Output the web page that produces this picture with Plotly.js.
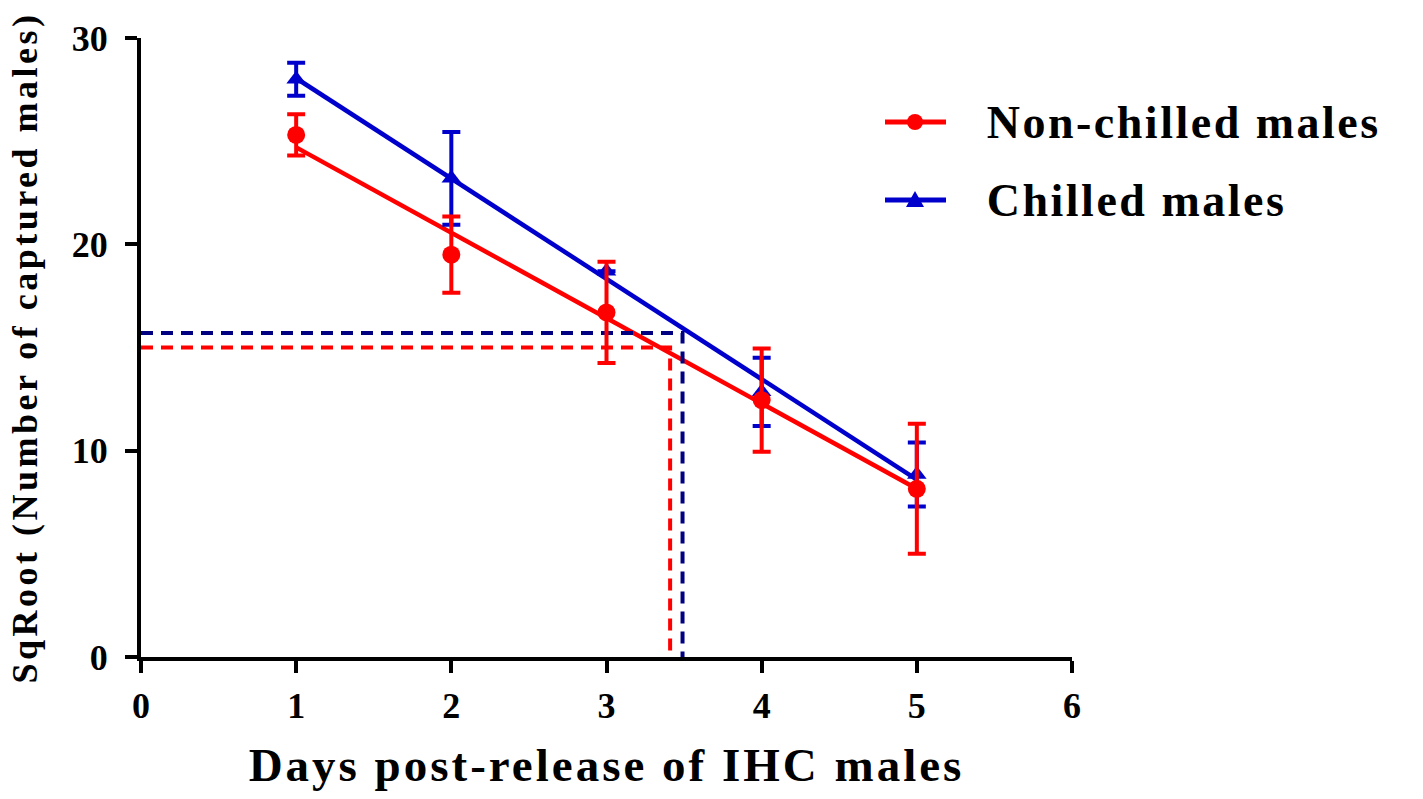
<!DOCTYPE html>
<html>
<head>
<meta charset="utf-8">
<script src="https://cdn.plot.ly/plotly-3.0.1.min.js"></script>
<style>
html,body{margin:0;padding:0;background:#fff;}
#chart{width:1423px;height:799px;}
#chart .xtitle{letter-spacing:3px;}
#chart .ytitle{letter-spacing:3.5px;}
#chart .annotation-text{letter-spacing:2.5px;}
</style>
</head>
<body>
<div id="chart"></div>
<script>
// Days post-release
var days = [1, 2, 3, 4, 5];
// Non-chilled males: mean and error (sqrt of captured)
var nonChilledMean = [25.3, 19.5, 16.7, 12.45, 8.15];
var nonChilledErr = [1.0, 1.85, 2.45, 2.5, 3.15];
// Chilled males (no visible error bar at day 3)
var chilledMean = [28.0, 23.2, 18.7, 12.85, 8.85];
var chilledErr = [0.8, 2.25, null, 1.65, 1.55];
// Linear fit lines (endpoints)
var fitX = [1, 5];
var nonChilledFit = [24.7, 8.15];
var chilledFit = [28.05, 8.6];
// Reference levels (dashed guides)
var nonChilledLevel = 15.0, nonChilledDay = 3.41;
var chilledLevel = 15.7, chilledDay = 3.49;
// Legend labels
var seriesNames = ['Non-chilled males', 'Chilled males'];

var RED = '#ff0000', BLUE = '#0000cc', NAVY = '#000080';
var FONT = 'Liberation Serif, Times New Roman, serif';

var traces = [
  {x: fitX, y: chilledFit, mode: 'lines', line: {color: BLUE, width: 4.5}, showlegend: false, name: seriesNames[1]},
  {x: fitX, y: nonChilledFit, mode: 'lines', line: {color: RED, width: 4.5}, showlegend: false, name: seriesNames[0]},
  {x: [0, chilledDay, chilledDay], y: [chilledLevel, chilledLevel, 0], mode: 'lines',
   line: {color: NAVY, width: 4, dash: '12px,8px'}, showlegend: false, hoverinfo: 'skip'},
  {x: [0, nonChilledDay, nonChilledDay], y: [nonChilledLevel, nonChilledLevel, 0], mode: 'lines',
   line: {color: RED, width: 4, dash: '12px,8px'}, showlegend: false, hoverinfo: 'skip'},
  {x: days, y: chilledMean, mode: 'markers', showlegend: false, name: seriesNames[1],
   marker: {symbol: 'triangle-up', size: 17, color: BLUE},
   error_y: {type: 'data', array: chilledErr, visible: true, color: BLUE, thickness: 4, width: 9}},
  {x: days, y: nonChilledMean, mode: 'markers', showlegend: false, name: seriesNames[0],
   marker: {symbol: 'circle', size: 18, color: RED},
   error_y: {type: 'data', array: nonChilledErr, visible: true, color: RED, thickness: 4, width: 9}}
];

// plot area in pixels: left 141, right 1072, top 38, bottom 657
function px2x(px) { return (px - 141) / 931; }
function py2y(py) { return (657 - py) / 619; }

var LEG_SPACING = 2.5;
var legendRows = [
  {y: 122, color: RED, marker: 'circle', text: seriesNames[0]},
  {y: 200, color: BLUE, marker: 'triangle', text: seriesNames[1]}
];
var shapes = [], annotations = [];
legendRows.forEach(function (r) {
  shapes.push({type: 'line', xref: 'paper', yref: 'paper', x0: px2x(885), x1: px2x(946),
    y0: py2y(r.y), y1: py2y(r.y), line: {color: r.color, width: 5}});
  if (r.marker === 'circle') {
    shapes.push({type: 'circle', xref: 'paper', yref: 'paper', xsizemode: 'pixel', ysizemode: 'pixel',
      xanchor: px2x(915), yanchor: py2y(r.y), x0: -8, x1: 8, y0: -8, y1: 8,
      fillcolor: r.color, line: {width: 0}});
  } else {
    shapes.push({type: 'path', xref: 'paper', yref: 'paper', xsizemode: 'pixel', ysizemode: 'pixel',
      xanchor: px2x(915), yanchor: py2y(r.y), path: 'M-9,-7 L9,-7 L0,9 Z',
      fillcolor: r.color, line: {width: 0}});
  }
  // compensate for CSS letter-spacing not included in Plotly's measured width
  var leftPx = 988 + r.text.length * LEG_SPACING / 2 - 3;
  annotations.push({xref: 'paper', yref: 'paper', x: px2x(leftPx), y: py2y(r.y), xanchor: 'left', yanchor: 'middle',
    text: r.text, showarrow: false, font: {family: FONT, size: 46, weight: 'bold', color: '#000'}});
});

var layout = {
  width: 1423, height: 799,
  margin: {l: 141, r: 351, t: 38, b: 142},
  paper_bgcolor: '#fff', plot_bgcolor: '#fff',
  font: {family: FONT, color: '#000', weight: 'bold'},
  xaxis: {
    range: [0, 6], tickvals: [0, 1, 2, 3, 4, 5, 6], showgrid: false, zeroline: false,
    showline: true, linecolor: '#000', linewidth: 4,
    ticks: 'outside', ticklen: 12, tickwidth: 4, tickcolor: '#000', ticklabelstandoff: 2,
    tickfont: {family: FONT, size: 36, weight: 'bold'},
    title: {text: 'Days post-release of IHC males', font: {family: FONT, size: 47, weight: 'bold'}, standoff: 24}
  },
  yaxis: {
    range: [0, 30], tickvals: [0, 10, 20, 30], showgrid: false, zeroline: false,
    showline: true, linecolor: '#000', linewidth: 4,
    ticks: 'outside', ticklen: 12, tickwidth: 4, tickcolor: '#000', ticklabelstandoff: 10,
    tickfont: {family: FONT, size: 36, weight: 'bold'},
    title: {text: 'SqRoot (Number of captured males)', font: {family: FONT, size: 36, weight: 'bold'}, standoff: 24}
  },
  shapes: shapes,
  annotations: annotations,
  showlegend: false
};

Plotly.newPlot('chart', traces, layout, {displayModeBar: false});
</script>
</body>
</html>
